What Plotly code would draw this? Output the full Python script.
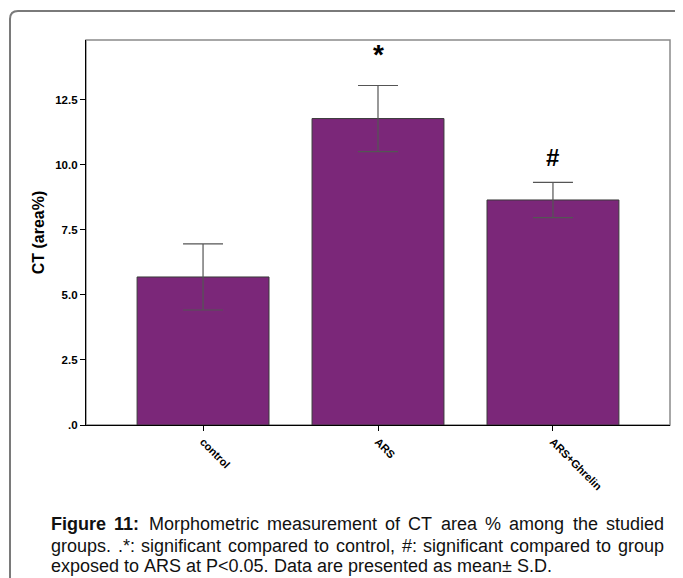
import plotly.graph_objects as go

categories = ["control", "ARS", "ARS+Ghrelin"]
means = [5.69, 11.78, 8.65]
sds = [1.27, 1.27, 0.68]
sig_marks = ["", "*", "#"]
sig_y = [None, 14.25, 10.3]
ytick_vals = [0, 2.5, 5.0, 7.5, 10.0, 12.5]
ytick_text = [".0", "2.5", "5.0", "7.5", "10.0", "12.5"]
caption_lines = [
    "Figure 11: Morphometric measurement of CT area % among the studied",
    "groups. .*: significant compared to control, #: significant compared to group",
    "exposed to ARS at P<0.05. Data are presented as mean± S.D.",
]
caption_bold = ["Figure", "11:"]
caption_justify = [True, True, False]

# page body has an 8px margin; positions below are in window pixels
OFF = 8
W, H = 683 - OFF, 578 - OFF
L, R, T, B = 86, 670, 40, 425  # plot area in window pixels

def px(x):
    return (x - L) / (R - L)

def py(y):
    return (B - y) / (B - T)

# Arial / Liberation Sans advance widths (per 1000 em)
REG = {' ': 278, '.': 278, ',': 278, ':': 278, '*': 389, '#': 556, '%': 889, '<': 584,
       '±': 584, '0': 556, '1': 556, '5': 556,
       'A': 667, 'C': 722, 'D': 722, 'F': 611, 'M': 833, 'P': 667, 'R': 722, 'S': 667, 'T': 611,
       'a': 556, 'b': 556, 'c': 500, 'd': 556, 'e': 556, 'f': 278, 'g': 556, 'h': 556, 'i': 222,
       'l': 222, 'm': 833, 'n': 556, 'o': 556, 'p': 556, 'r': 333, 's': 500, 't': 278, 'u': 556,
       'v': 500, 'w': 722, 'x': 500, 'y': 500}
BOLD = {'F': 611, 'i': 278, 'g': 611, 'u': 611, 'r': 389, 'e': 556, '1': 556, ':': 333}

CAP_SIZE = 18

def wwidth(word, bold):
    tbl = BOLD if bold else REG
    return sum(tbl.get(ch, 556) for ch in word) * CAP_SIZE / 1000.0

fig = go.Figure()
fig.add_trace(go.Bar(
    x=categories, y=means, width=0.754,
    marker=dict(color="#7b2779", line=dict(color="#3a3a3a", width=1)),
    error_y=dict(type="data", array=sds, visible=True, color="#555555", thickness=1.2, width=20),
))

for c, m, yv in zip(categories, sig_marks, sig_y):
    if m:
        fig.add_annotation(x=c, y=yv, text="<b>" + m + "</b>", showarrow=False,
                           font=dict(family="Liberation Sans, Arial", size=28 if m == "*" else 24, color="black"),
                           xref="x", yref="y", yanchor="middle")

# frame of plot area (top/right gray)
fig.add_shape(type="rect", xref="paper", yref="paper", x0=0, y0=0, x1=1, y1=1,
              line=dict(color="#8a8a8a", width=1.5), layer="below")

# outer rounded figure frame
x0 = px(10); y0 = py(11); r = 8
xr = px(700); yb = py(600)
path = (f"M {x0} {yb} L {x0} {py(11 + r)} Q {x0} {y0} {px(10 + r)} {y0} L {xr} {y0}")
fig.add_shape(type="path", xref="paper", yref="paper", path=path,
              line=dict(color="#7a7a7a", width=2))

# caption, justified word by word
cap_left, cap_right = 51, 664
cap_y = [524, 546, 566]
for li, (line, yy) in enumerate(zip(caption_lines, cap_y)):
    words = line.split(" ")
    bolds = [li == 0 and w in caption_bold for w in words]
    widths = [wwidth(w, b) for w, b in zip(words, bolds)]
    if caption_justify[li] and len(words) > 1:
        gap = (cap_right - cap_left - sum(widths)) / (len(words) - 1)
    else:
        gap = REG[' '] * CAP_SIZE / 1000.0
    x = cap_left
    for w, b, wd in zip(words, bolds, widths):
        txt = w.replace("<", "&lt;")
        if b:
            txt = "<b>" + txt + "</b>"
        fig.add_annotation(x=px(x), y=py(yy), xref="paper", yref="paper", text=txt,
                           showarrow=False, xanchor="left", yanchor="middle", align="left",
                           borderpad=0, borderwidth=0,
                           font=dict(family="Liberation Sans, Arial", size=CAP_SIZE, color="#111111"))
        x += wd + gap

fig.update_layout(
    width=W, height=H,
    margin=dict(l=L - OFF, r=W - (R - OFF), t=T - OFF, b=H - (B - OFF), pad=0),
    plot_bgcolor="white", paper_bgcolor="white",
    showlegend=False,
    font=dict(family="Liberation Sans, Arial", color="black"),
)
fig.update_xaxes(range=[-0.669, 2.669], showline=True, linecolor="black", linewidth=1.2,
                 ticks="outside", ticklen=5, tickcolor="black", tickangle=45,
                 tickfont=dict(size=11, family="Liberation Sans, Arial", weight="bold"),
                 showgrid=False, zeroline=False, mirror=False)
fig.update_yaxes(range=[0, 14.8], showline=True, linecolor="black", linewidth=1.2,
                 ticks="outside", ticklen=5, tickcolor="black",
                 tickvals=ytick_vals, ticktext=ytick_text,
                 tickfont=dict(size=11.5, family="Liberation Sans, Arial", weight="bold"),
                 showgrid=False, zeroline=False,
                 title=dict(text="<b>CT (area%)</b>", font=dict(size=16), standoff=6))

fig.write_html("out.html")
